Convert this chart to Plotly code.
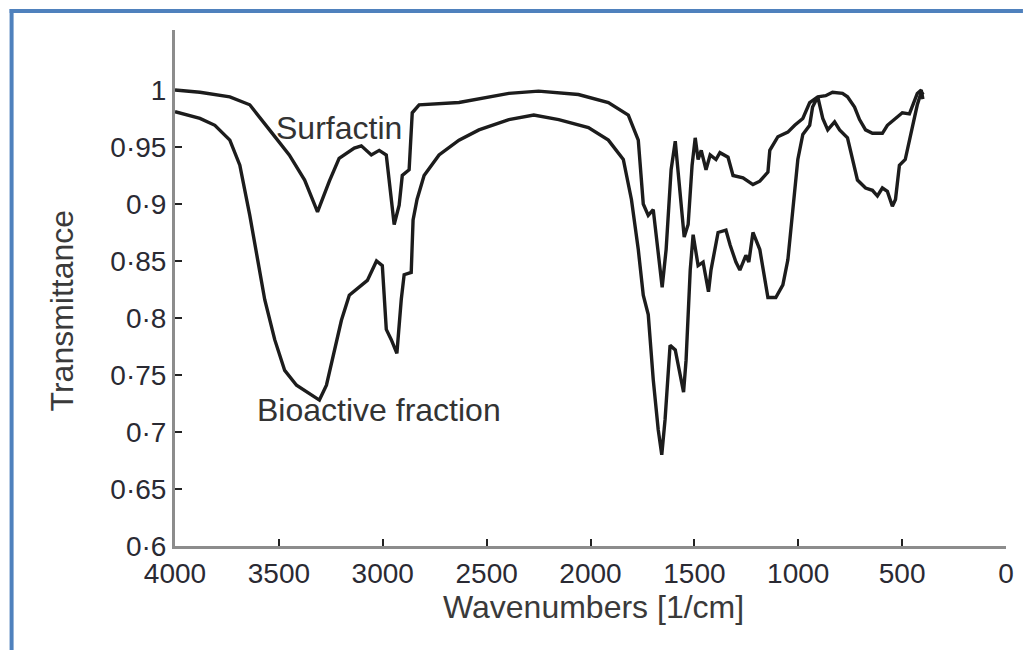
import plotly.graph_objects as go

# ---- data ----
surf_wn = [4000, 3880, 3736, 3640, 3545, 3450, 3376, 3314, 3257, 3210, 3137, 3103, 3055, 3017,
           2983, 2959, 2945, 2921, 2906, 2873, 2858, 2825, 2633, 2393, 2250, 2058, 1914, 1818,
           1770, 1746, 1722, 1698, 1674, 1655, 1636, 1612, 1592, 1568, 1549, 1530, 1511, 1496,
           1482, 1467, 1444, 1424, 1396, 1377, 1338, 1314, 1266, 1218, 1185, 1146, 1137, 1098,
           1050, 1017, 978, 945, 906, 868, 835, 787, 763, 729, 705, 676, 643, 595, 571, 532,
           499, 465, 446, 427, 408, 400]
surf_t = [1.000, 0.998, 0.994, 0.987, 0.965, 0.943, 0.921, 0.893, 0.920, 0.940, 0.949, 0.951,
          0.943, 0.947, 0.943, 0.903, 0.882, 0.899, 0.925, 0.930, 0.980, 0.987, 0.989, 0.997,
          0.999, 0.996, 0.989, 0.978, 0.956, 0.900, 0.890, 0.895, 0.860, 0.827, 0.860, 0.930,
          0.955, 0.904, 0.871, 0.882, 0.934, 0.958, 0.939, 0.947, 0.930, 0.943, 0.939, 0.945,
          0.941, 0.925, 0.923, 0.917, 0.920, 0.928, 0.947, 0.959, 0.963, 0.969, 0.975, 0.989,
          0.994, 0.995, 0.998, 0.997, 0.994, 0.985, 0.974, 0.965, 0.962, 0.962, 0.969, 0.975,
          0.980, 0.979, 0.989, 0.997, 1.000, 0.992]

bio_wn = [4000, 3880, 3808, 3736, 3688, 3640, 3602, 3568, 3520, 3472, 3415, 3353, 3305, 3271,
          3233, 3199, 3161, 3113, 3074, 3030, 3002, 2983, 2959, 2932, 2911, 2897, 2863, 2854,
          2835, 2801, 2729, 2633, 2537, 2393, 2273, 2153, 2010, 1914, 1842, 1803, 1770, 1746,
          1722, 1698, 1674, 1657, 1641, 1617, 1592, 1578, 1552, 1540, 1520, 1506, 1492, 1482,
          1458, 1432, 1420, 1400, 1386, 1348, 1328, 1300, 1281, 1252, 1238, 1218, 1204, 1185,
          1146, 1108, 1074, 1050, 1026, 1002, 978, 945, 931, 916, 906, 882, 858, 825, 801,
          763, 739, 715, 676, 643, 619, 595, 571, 547, 532, 513, 485, 465, 446, 427, 408, 398]
bio_t = [0.981, 0.975, 0.969, 0.956, 0.934, 0.890, 0.851, 0.816, 0.781, 0.754, 0.741, 0.734,
         0.728, 0.741, 0.772, 0.798, 0.820, 0.827, 0.833, 0.850, 0.846, 0.790, 0.781, 0.769,
         0.816, 0.838, 0.840, 0.886, 0.904, 0.925, 0.943, 0.956, 0.965, 0.974, 0.978, 0.974,
         0.967, 0.956, 0.939, 0.904, 0.860, 0.820, 0.803, 0.746, 0.702, 0.680, 0.711, 0.776,
         0.772, 0.759, 0.735, 0.763, 0.842, 0.873, 0.855, 0.846, 0.849, 0.823, 0.842, 0.864,
         0.875, 0.877, 0.864, 0.849, 0.842, 0.855, 0.849, 0.875, 0.868, 0.860, 0.818, 0.818,
         0.829, 0.851, 0.895, 0.939, 0.961, 0.969, 0.985, 0.991, 0.994, 0.975, 0.965, 0.972,
         0.965, 0.958, 0.939, 0.921, 0.914, 0.912, 0.907, 0.914, 0.911, 0.898, 0.904, 0.934,
         0.939, 0.956, 0.969, 0.987, 0.998, 0.996]

y_tickvals = [0.6, 0.65, 0.7, 0.75, 0.8, 0.85, 0.9, 0.95, 1.0]
y_ticktext = ["0·6", "0·65", "0·7", "0·75", "0·8", "0·85", "0·9", "0·95", "1"]
x_tickvals = [4000, 3500, 3000, 2500, 2000, 1500, 1000, 500, 0]
x_ticktext = ["4000", "3500", "3000", "2500", "2000", "1500", "1000", "500", "0"]

FONT = "Liberation Sans, Arial, sans-serif"
LINE = "#1c1c1c"

fig = go.Figure()
fig.add_trace(go.Scatter(x=surf_wn, y=surf_t, mode="lines", name="Surfactin",
                         line=dict(color=LINE, width=3.4)))
fig.add_trace(go.Scatter(x=bio_wn, y=bio_t, mode="lines", name="Bioactive fraction",
                         line=dict(color=LINE, width=3.4)))

W, H = 1026, 650
L, R, T, B = 175, 17, 30, 104
pw, ph = W - L - R, H - T - B

def px(xp):
    return (xp - L) / pw

def py(yp):
    return (H - B - yp) / ph

fig.update_layout(
    width=W, height=H,
    margin=dict(l=L, r=R, t=T, b=B),
    paper_bgcolor="white", plot_bgcolor="white",
    showlegend=False,
    font=dict(family=FONT, color="#2a2a33"),
    xaxis=dict(range=[4000, 0], tickvals=x_tickvals, ticktext=x_ticktext,
               showgrid=False, zeroline=False, showline=True, linecolor="#8c8c8c",
               linewidth=3, ticks="inside", ticklen=7, tickwidth=2, tickcolor="#222222",
               tickfont=dict(size=28, family=FONT, color="#2a2a33")),
    yaxis=dict(range=[0.6, 1.0526], tickvals=y_tickvals, ticktext=y_ticktext,
               showgrid=False, zeroline=False, showline=True, linecolor="#8c8c8c",
               linewidth=3, ticks="inside", ticklen=7, tickwidth=2, tickcolor="#222222",
               tickfont=dict(size=28, family=FONT, color="#2a2a33")),
    annotations=[
        dict(text="Surfactin", x=3209, y=0.967, xref="x", yref="y", showarrow=False,
             xanchor="center", yanchor="middle",
             font=dict(size=32, family=FONT, color="#333333")),
        dict(text="Bioactive fraction", x=3017, y=0.719, xref="x", yref="y", showarrow=False,
             xanchor="center", yanchor="middle",
             font=dict(size=32, family=FONT, color="#333333")),
        dict(text="Wavenumbers [1/cm]", x=px(595), y=py(607), xref="paper", yref="paper",
             xanchor="center", yanchor="middle",
             showarrow=False, font=dict(size=32, family=FONT, color="#3a3a3a")),
        dict(text="Transmittance", x=px(62), y=py(310), xref="paper", yref="paper",
             xanchor="center", yanchor="middle",
             showarrow=False, textangle=-90, font=dict(size=32, family=FONT, color="#3a3a3a")),
    ],
    shapes=[
        dict(type="line", xref="paper", yref="paper", x0=px(11), x1=px(11), y0=py(650), y1=py(9),
             line=dict(color="#4F81BD", width=4)),
        dict(type="line", xref="paper", yref="paper", x0=px(9), x1=px(1026), y0=py(11), y1=py(11),
             line=dict(color="#4F81BD", width=4)),
    ],
)

fig.write_html("out.html")
